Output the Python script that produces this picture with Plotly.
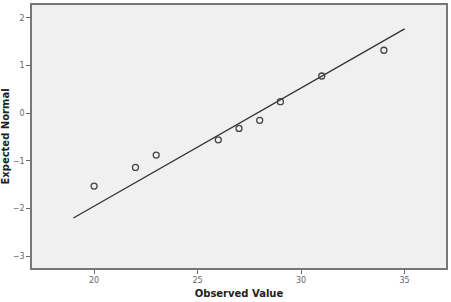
import plotly.graph_objects as go

observed = [20, 22, 23, 26, 27, 28, 29, 31, 34]
expected = [-1.53, -1.14, -0.88, -0.56, -0.32, -0.15, 0.24, 0.78, 1.32]
line_x = [19, 35]
line_y = [-2.2, 1.77]
x_ticks = [20, 25, 30, 35]
y_ticks = [-3, -2, -1, 0, 1, 2]

fig = go.Figure()
fig.add_trace(go.Scatter(x=line_x, y=line_y, mode="lines",
                         line=dict(color="#333333", width=1.3), showlegend=False))
fig.add_trace(go.Scatter(x=observed, y=expected, mode="markers",
                         marker=dict(symbol="circle-open", size=6, color="#444444",
                                     line=dict(color="#444444", width=1.3)),
                         showlegend=False))

axis_common = dict(showgrid=False, zeroline=False, ticks="outside", ticklen=4,
                   tickcolor="#666666", tickfont=dict(size=8, color="#666666",
                                                       family="DejaVu Sans"),
                   showline=True, linecolor="#777777", linewidth=1.5, mirror=True)

fig.update_layout(
    width=451, height=302,
    margin=dict(l=28, r=4, t=3, b=34),
    paper_bgcolor="white", plot_bgcolor="#f0f0f0",
    xaxis=dict(range=[17, 37], tickvals=x_ticks,
               title=dict(text="<b>Observed Value</b>", standoff=6,
                          font=dict(size=10, color="#222222", family="DejaVu Sans")),
               **axis_common),
    yaxis=dict(range=[-3.25, 2.27], tickvals=y_ticks,
               title=dict(text="<b>Expected Normal</b>", standoff=3,
                          font=dict(size=10, color="#222222", family="DejaVu Sans")),
               **axis_common),
)

fig.write_html("out.html")
